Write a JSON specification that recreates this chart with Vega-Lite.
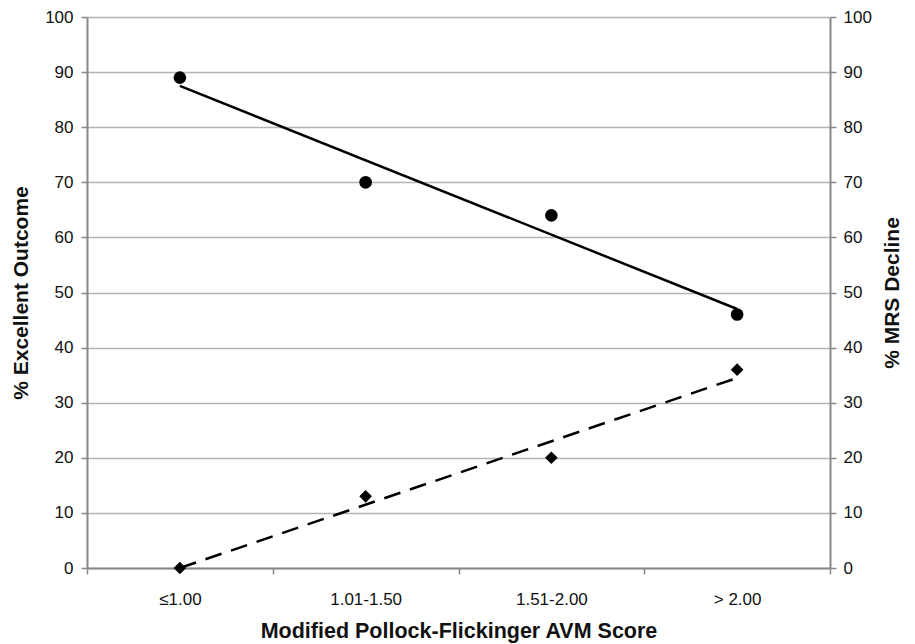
{
  "$schema": "https://vega.github.io/schema/vega-lite/v6.json",
  "width": 743,
  "height": 551,
  "autosize": {"type": "none"},
  "padding": {"left": 87, "top": 17, "right": 85, "bottom": 76},
  "background": "white",
  "config": {
    "view": {"stroke": null},
    "font": "Liberation Sans",
    "axis": {
      "labelFont": "Liberation Sans",
      "titleFont": "Liberation Sans",
      "titleFontWeight": "bold",
      "labelColor": "#111",
      "titleColor": "#111",
      "domainColor": "#888",
      "domainWidth": 2,
      "tickColor": "#888",
      "tickWidth": 1.5,
      "tickSize": 6,
      "gridColor": "#b4b4b4",
      "gridWidth": 1.5
    }
  },
  "datasets": {
    "obs": [
      {"score": "≤1.00", "excellent": 89, "mrs": 0},
      {"score": "1.01-1.50", "excellent": 70, "mrs": 13},
      {"score": "1.51-2.00", "excellent": 64, "mrs": 20},
      {"score": "> 2.00", "excellent": 46, "mrs": 36}
    ],
    "trend": [
      {"score": "≤1.00", "excellent_fit": 87.5, "mrs_fit": 0},
      {"score": "> 2.00", "excellent_fit": 47, "mrs_fit": 34.5}
    ]
  },
  "encoding": {
    "x": {
      "field": "score",
      "type": "ordinal",
      "sort": ["≤1.00", "1.01-1.50", "1.51-2.00", "> 2.00"],
      "scale": {"domain": ["≤1.00", "1.01-1.50", "1.51-2.00", "> 2.00"], "type": "band", "paddingInner": 0, "paddingOuter": 0},
      "axis": {
        "title": "Modified Pollock-Flickinger AVM Score",
        "titleFontSize": 21.5,
        "labelFontSize": 17,
        "labelAngle": 0,
        "tickBand": "extent",
        "labelPadding": 17,
        "titlePadding": 13,
        "grid": false
      }
    }
  },
  "layer": [
    {
      "layer": [
        {
          "data": {"name": "trend"},
          "mark": {"type": "line", "color": "black", "strokeWidth": 2.5},
          "encoding": {
            "y": {
              "field": "excellent_fit",
              "type": "quantitative",
              "scale": {"domain": [0, 100], "nice": false},
              "axis": {
                "title": "% Excellent Outcome",
                "titleFontSize": 21,
                "labelFontSize": 17,
                "orient": "left",
                "values": [0, 10, 20, 30, 40, 50, 60, 70, 80, 90, 100],
                "grid": true,
                "labelPadding": 8,
                "titlePadding": 13
              }
            }
          }
        },
        {
          "data": {"name": "obs"},
          "mark": {"type": "point", "shape": "circle", "filled": true, "color": "black", "size": 160, "opacity": 1},
          "encoding": {
            "y": {"field": "excellent", "type": "quantitative"}
          }
        }
      ]
    },
    {
      "layer": [
        {
          "data": {"name": "trend"},
          "mark": {"type": "line", "color": "black", "strokeWidth": 2.5, "strokeDash": [17, 10]},
          "encoding": {
            "y": {
              "field": "mrs_fit",
              "type": "quantitative",
              "scale": {"domain": [0, 100], "nice": false},
              "axis": {
                "title": "% MRS Decline",
                "titleFontSize": 21,
                "labelFontSize": 17,
                "orient": "right",
                "values": [0, 10, 20, 30, 40, 50, 60, 70, 80, 90, 100],
                "grid": false,
                "titleAngle": -90,
                "titleBaseline": "top",
                "labelPadding": 7,
                "titlePadding": 10
              }
            }
          }
        },
        {
          "data": {"name": "obs"},
          "mark": {"type": "point", "shape": "diamond", "filled": true, "color": "black", "size": 160, "opacity": 1},
          "encoding": {
            "y": {"field": "mrs", "type": "quantitative"}
          }
        }
      ]
    }
  ],
  "resolve": {"scale": {"y": "independent"}}
}
